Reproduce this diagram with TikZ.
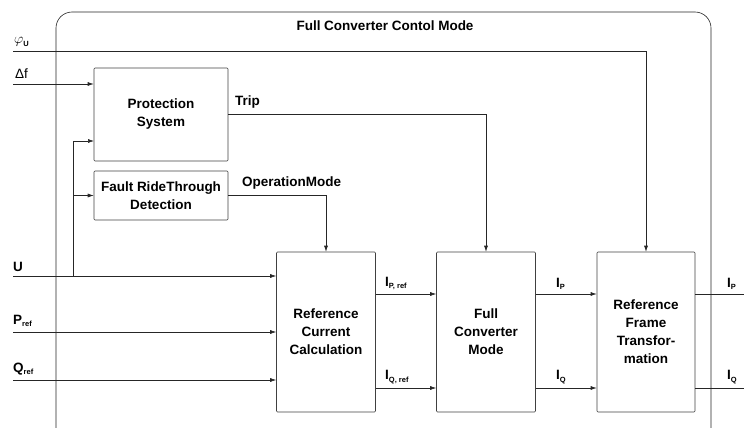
\documentclass[tikz,border=0pt]{standalone}
\usepackage{fontspec}
\setmainfont{Liberation Sans}
\usetikzlibrary{arrows.meta}
\newcommand{\lowidx}[1]{\raisebox{-2.5pt}{\fontsize{7.5}{8}\selectfont #1}}
\begin{document}
\begin{tikzpicture}[x=1pt,y=-1pt,
  every node/.style={font=\bfseries\fontsize{13.5}{18}\selectfont,inner sep=1pt},
  blk/.style={draw=black!75,semithick,align=center,rounded corners=1pt},
  lbl/.style={anchor=south west},
  e/.style={-{Latex[length=6pt,width=4pt]},semithick,draw=black!85},
  w/.style={semithick,draw=black!85}]
\useasboundingbox (0,0) rectangle (744,428);
\draw[w,rounded corners=16pt] (56,12) rectangle (711,445);
\node (FccTitle) at (385,26) {Full Converter Contol Mode};
\node[blk,minimum width=134,minimum height=93] (FccProtection) at (161,114.5) {Protection\\System};
\node[blk,minimum width=134,minimum height=49] (FccFrt) at (161,195.5) {Fault RideThrough\\Detection};
\node[blk,minimum width=99,minimum height=160] (FccRefCurrent) at (326,332) {Reference\\Current\\Calculation};
\node[blk,minimum width=99,minimum height=160] (FccFullConv) at (486,332) {Full\\Converter\\Mode};
\node[blk,minimum width=98,minimum height=160] (FccRefFrame) at (646,332) {Reference\\Frame\\Transfor-\\mation};
\coordinate (FccPhiU) at (13,51);
\coordinate (FccDf) at (13,84);
\coordinate (FccU) at (13,276);
\coordinate (FccPref) at (13,332);
\coordinate (FccQref) at (13,380);
\coordinate (FccUTap) at (73,276);
\coordinate (FccProtU) at (94,141);
\coordinate (FccRowP) at (0,294);
\coordinate (FccRowQ) at (0,388);
\coordinate (FccOutP) at (744,294);
\coordinate (FccOutQ) at (744,388);
\node[lbl] at (13,48) {\textmd{\fontsize{15}{15}\selectfont$\varphi$}\lowidx{U}};
\node[lbl] at (14,80) {\textmd{Δf}};
\node[lbl] at (12,273) {U};
\node[lbl] at (12,328) {P\lowidx{ref}};
\node[lbl] at (12,376) {Q\lowidx{ref}};
\node[lbl] at (234,110) {Trip};
\node[lbl] at (241,191) {OperationMode};
\node[lbl] at (384,291) {I\lowidx{P, ref}};
\node[lbl] at (384,385) {I\lowidx{Q, ref}};
\node[lbl] at (555,291) {I\lowidx{P}};
\node[lbl] at (555,385) {I\lowidx{Q}};
\node[lbl] at (726,291) {I\lowidx{P}};
\node[lbl] at (726,385) {I\lowidx{Q}};
\draw[e] (FccPhiU) -| (FccRefFrame);
\draw[e] (FccDf) -- (FccDf -| FccProtection.west);
\draw[e] (FccU) -- (FccU -| FccRefCurrent.west);
\draw[e] (FccPref) -- (FccPref -| FccRefCurrent.west);
\draw[e] (FccQref) -- (FccQref -| FccRefCurrent.west);
\draw[e] (FccUTap) |- (FccProtU);
\draw[e] (FccUTap) |- (FccFrt.west);
\draw[e] (FccProtection.east) -| (FccFullConv);
\draw[e] (FccFrt.east) -| (FccRefCurrent);
\draw[e] (FccRefCurrent.east |- FccRowP) -- (FccFullConv.west |- FccRowP);
\draw[e] (FccRefCurrent.east |- FccRowQ) -- (FccFullConv.west |- FccRowQ);
\draw[e] (FccFullConv.east |- FccRowP) -- (FccRefFrame.west |- FccRowP);
\draw[e] (FccFullConv.east |- FccRowQ) -- (FccRefFrame.west |- FccRowQ);
\draw[w] (FccRefFrame.east |- FccRowP) -- (FccOutP);
\draw[w] (FccRefFrame.east |- FccRowQ) -- (FccOutQ);
\end{tikzpicture}
\end{document}
